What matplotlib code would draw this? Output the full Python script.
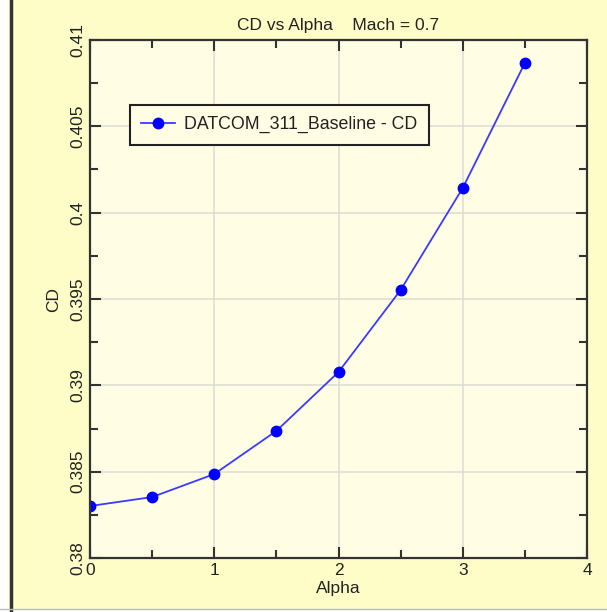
import matplotlib
matplotlib.use('Agg')
import matplotlib.pyplot as plt
from matplotlib.patches import Rectangle
from matplotlib.lines import Line2D
from matplotlib.ticker import MultipleLocator

plt.rcParams['font.family'] = ['Liberation Sans', 'DejaVu Sans']

# CD vs Alpha at Mach 0.7
alpha = [0, 0.5, 1, 1.5, 2, 2.5, 3, 3.5]
cd = [0.38301, 0.38353, 0.38486, 0.38736, 0.39077, 0.39552, 0.40143, 0.40867]
series_label = 'DATCOM_311_Baseline - CD'
x_ticks = [0, 1, 2, 3, 4]
y_ticks = [0.38, 0.385, 0.39, 0.395, 0.4, 0.405, 0.41]
y_tick_labels = ['0.38', '0.385', '0.39', '0.395', '0.4', '0.405', '0.41']

fig_bg = '#FEFDC8'
ax_bg = '#FFFEE4'
txt = '#222222'
fs = 12.5

fig = plt.figure(figsize=(6.07, 6.12), dpi=100, facecolor=fig_bg)
# window frame: white strip and dark edge on the left, thin strip at bottom
fig.add_artist(Rectangle((0, 0), 9 / 607, 1, transform=fig.transFigure,
                         facecolor='white', edgecolor='none'))
fig.add_artist(Line2D([10.5 / 607, 10.5 / 607], [0, 1], transform=fig.transFigure,
                      color='#333333', lw=2.5))
fig.add_artist(Rectangle((0, 0), 1, 3 / 612, transform=fig.transFigure,
                         facecolor='white', edgecolor='none'))
fig.add_artist(Line2D([0, 1], [3.5 / 612, 3.5 / 612], transform=fig.transFigure,
                      color='#bbbbbb', lw=1))

ax = fig.add_axes([90 / 607, 54 / 612, 497 / 607, 518 / 612])
ax.set_facecolor(ax_bg)

ax.plot(alpha, cd, color='#3a3aff', lw=1.3, marker='o', markersize=7.5,
        markerfacecolor='#0000ff', markeredgecolor='#0000ff', label=series_label)

ax.set_xlim(0, 4)
ax.set_ylim(0.38, 0.41)
ax.set_xticks(x_ticks)
ax.set_xticklabels([str(t) for t in x_ticks])
ax.set_yticks(y_ticks)
ax.set_yticklabels(y_tick_labels, rotation=90, va='center')
ax.xaxis.set_minor_locator(MultipleLocator(0.5))
ax.yaxis.set_minor_locator(MultipleLocator(0.0025))

ax.tick_params(which='both', direction='in', top=True, right=True,
               color='#333333', width=1.5, labelsize=fs, labelcolor=txt)
ax.tick_params(which='major', length=8)
ax.tick_params(which='minor', length=5.5)
ax.tick_params(axis='x', pad=3.5)
ax.tick_params(axis='y', pad=3)

for s in ax.spines.values():
    s.set_color('#333333')
    s.set_linewidth(1.6)

ax.grid(True, which='major', color='#dcdcd4', lw=1.1)
ax.set_axisbelow(True)

ax.set_title('CD vs Alpha    Mach = 0.7', fontsize=fs, color=txt, pad=7)
ax.set_xlabel('Alpha', fontsize=fs, color=txt, labelpad=2)
ax.set_ylabel('CD', fontsize=fs, color=txt, labelpad=7)

leg = ax.legend(loc='upper left', bbox_to_anchor=(0.08, 0.875), fontsize=12.8,
                fancybox=False, shadow=False, framealpha=1, borderpad=0.65,
                handlelength=1.9, borderaxespad=0, handletextpad=0.5)
leg.get_frame().set_edgecolor('#222222')
leg.get_frame().set_linewidth(1.5)
leg.get_frame().set_facecolor(ax_bg)
for t in leg.get_texts():
    t.set_color(txt)

fig.savefig('out.png', dpi=100, facecolor=fig.get_facecolor())
